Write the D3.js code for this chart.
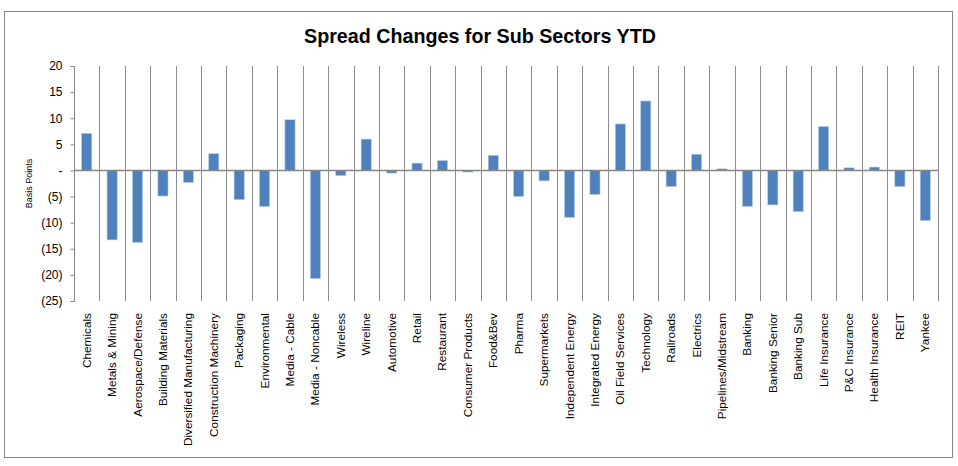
<!DOCTYPE html>
<html>
<head>
<meta charset="utf-8">
<script src="https://cdn.jsdelivr.net/npm/d3@7"></script>
<style>
body { margin: 0; background: #fff; }
text { font-family: 'Liberation Sans', Arial, sans-serif; fill: #000; }
</style>
</head>
<body>
<svg id="chart"></svg>
<script>
const categories = ['Chemicals', 'Metals & Mining', 'Aerospace/Defense', 'Building Materials',
  'Diversified Manufacturing', 'Construction Machinery', 'Packaging', 'Environmental',
  'Media - Cable', 'Media - Noncable', 'Wireless', 'Wireline', 'Automotive', 'Retail',
  'Restaurant', 'Consumer Products', 'Food&Bev', 'Pharma', 'Supermarkets',
  'Independent Energy', 'Integrated Energy', 'Oil Field Services', 'Technology',
  'Railroads', 'Electrics', 'Pipelines/Midstream', 'Banking', 'Banking Senior',
  'Banking Sub', 'Life Insurance', 'P&C Insurance', 'Health Insurance', 'REIT', 'Yankee'];

const spreadChange = [7.1, -13.3, -13.8, -4.9, -2.3, 3.2, -5.6, -6.9, 9.7, -20.7,
  -1.0, 6.0, -0.5, 1.4, 1.9, -0.3, 2.9, -5.0, -2.0, -9.0, -4.6, 8.9, 13.3,
  -3.1, 3.1, 0.3, -6.9, -6.6, -7.9, 8.4, 0.5, 0.65, -3.1, -9.6];

const yTicks = [20, 15, 10, 5, 0, -5, -10, -15, -20, -25];

const title = 'Spread Changes for Sub Sectors YTD';
const yLabel = 'Basis Points';

const W = 958, H = 466;
const svg = d3.select('#chart').attr('width', W).attr('height', H);

// outer chart border
svg.append('rect')
  .attr('x', 4.5).attr('y', 11.5)
  .attr('width', 948).attr('height', 446)
  .attr('fill', 'none').attr('stroke', '#868686');

const pLeft = 74, pRight = 938, pTop = 66, pBottom = 301;

const x = d3.scaleBand().domain(categories).range([pLeft, pRight]).paddingInner(0).paddingOuter(0);
const y = d3.scaleLinear().domain([-25, 20]).range([pBottom, pTop]);

// vertical gridlines at category boundaries
svg.append('g')
  .selectAll('line')
  .data(categories)
  .enter()
  .append('line')
  .attr('x1', d => Math.round(x(d) + x.bandwidth()) + 0.5)
  .attr('x2', d => Math.round(x(d) + x.bandwidth()) + 0.5)
  .attr('y1', pTop).attr('y2', pBottom)
  .attr('stroke', '#8c8c8c').attr('stroke-width', 1);

// y axis
const yAxis = d3.axisLeft(y)
  .tickValues(yTicks)
  .tickSize(4)
  .tickPadding(8)
  .tickFormat(d => d === 0 ? '-' : d < 0 ? '(' + Math.abs(d) + ')' : d);

const ya = svg.append('g')
  .attr('transform', `translate(${pLeft + 0.5},0)`)
  .call(yAxis);
ya.selectAll('path, line').attr('stroke', '#868686');
ya.select('.domain').attr('d', `M-4,${pTop + 0.5}H0V${pBottom + 0.5}H-4`);
ya.selectAll('text')
  .style('font-family', "'Liberation Sans', Arial, sans-serif")
  .style('font-size', '12px').attr('fill', '#000');

// bars
const barW = x.bandwidth() * 0.4;
svg.append('g')
  .selectAll('rect')
  .data(spreadChange)
  .enter()
  .append('rect')
  .attr('x', (d, i) => x(categories[i]) + (x.bandwidth() - barW) / 2)
  .attr('y', d => y(Math.max(0, d)))
  .attr('width', barW)
  .attr('height', d => Math.abs(y(d) - y(0)))
  .attr('fill', '#4f81bd')
  .attr('stroke', '#b9cde5')
  .attr('stroke-width', 0.6);

// zero line
svg.append('line')
  .attr('x1', pLeft).attr('x2', pRight)
  .attr('y1', y(0)).attr('y2', y(0))
  .attr('stroke', '#868686').attr('stroke-width', 1.5);

// category labels, rotated
svg.append('g')
  .selectAll('text')
  .data(categories)
  .enter()
  .append('text')
  .attr('transform', d => `translate(${x(d) + x.bandwidth() / 2 + 4},${pBottom + 12}) rotate(-90)`)
  .attr('text-anchor', 'end')
  .style('font-size', '11.8px')
  .text(d => d);

// y label
svg.append('text')
  .attr('transform', `translate(32,${(pTop + pBottom) / 2}) rotate(-90)`)
  .attr('text-anchor', 'middle')
  .style('font-size', '9px')
  .text(yLabel);

// title
svg.append('text')
  .attr('x', 480).attr('y', 43)
  .attr('text-anchor', 'middle')
  .style('font-size', '19.7px')
  .style('font-weight', 'bold')
  .text(title);
</script>
</body>
</html>
